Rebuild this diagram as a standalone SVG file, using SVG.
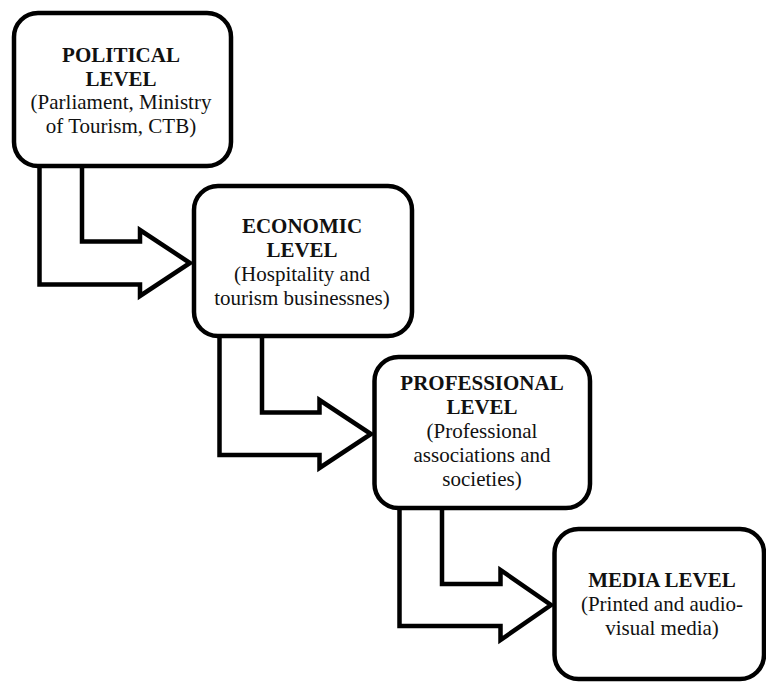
<svg xmlns="http://www.w3.org/2000/svg" width="766" height="682" viewBox="0 0 766 682">
<style>
.box{fill:#fff;stroke:#000;stroke-width:4.5}
.arr{fill:#fff;stroke:#000;stroke-width:4.5;stroke-linejoin:miter;stroke-miterlimit:10}
text{font-family:"Liberation Serif","Times New Roman",serif;font-size:21px;fill:#111;text-anchor:middle}
.b{font-weight:bold}
</style>
<rect width="766" height="682" fill="#fff"/>
<g id="connectors">
<polyline class="arr" points="39.5,164 39.5,284.5 140,284.5 140,296 190,263 140,230 140,241.5 82,241.5 82,164"/>
<polyline class="arr" points="219.5,334 219.5,455 319.5,455 319.5,468 371,434 319.5,400 319.5,412.5 262,412.5 262,334"/>
<polyline class="arr" points="399.5,506 399.5,626 500.5,626 500.5,640 551,605 500.5,570 500.5,584 442,584 442,506"/>
</g>
<g id="political">
<rect class="box" x="14" y="13" width="217" height="153" rx="24"/>
<text x="121" y="62" class="b">POLITICAL</text>
<text x="121" y="85.5" class="b">LEVEL</text>
<text x="121" y="109">(Parliament, Ministry</text>
<text x="121" y="132.5">of Tourism, CTB)</text>
</g>
<g id="economic">
<rect class="box" x="194" y="186" width="218" height="150" rx="24"/>
<text x="302" y="233" class="b">ECONOMIC</text>
<text x="302" y="257" class="b">LEVEL</text>
<text x="302" y="281">(Hospitality and</text>
<text x="302" y="305">tourism businessnes)</text>
</g>
<g id="professional">
<rect class="box" x="374.5" y="357" width="215.5" height="151" rx="24"/>
<text x="482" y="390" class="b">PROFESSIONAL</text>
<text x="482" y="414" class="b">LEVEL</text>
<text x="482" y="438">(Professional</text>
<text x="482" y="462">associations and</text>
<text x="482" y="486">societies)</text>
</g>
<g id="media">
<rect class="box" x="554.5" y="529" width="209.5" height="150" rx="24"/>
<text x="662" y="587" class="b">MEDIA LEVEL</text>
<text x="662" y="611">(Printed and audio-</text>
<text x="662" y="635">visual media)</text>
</g>
</svg>
